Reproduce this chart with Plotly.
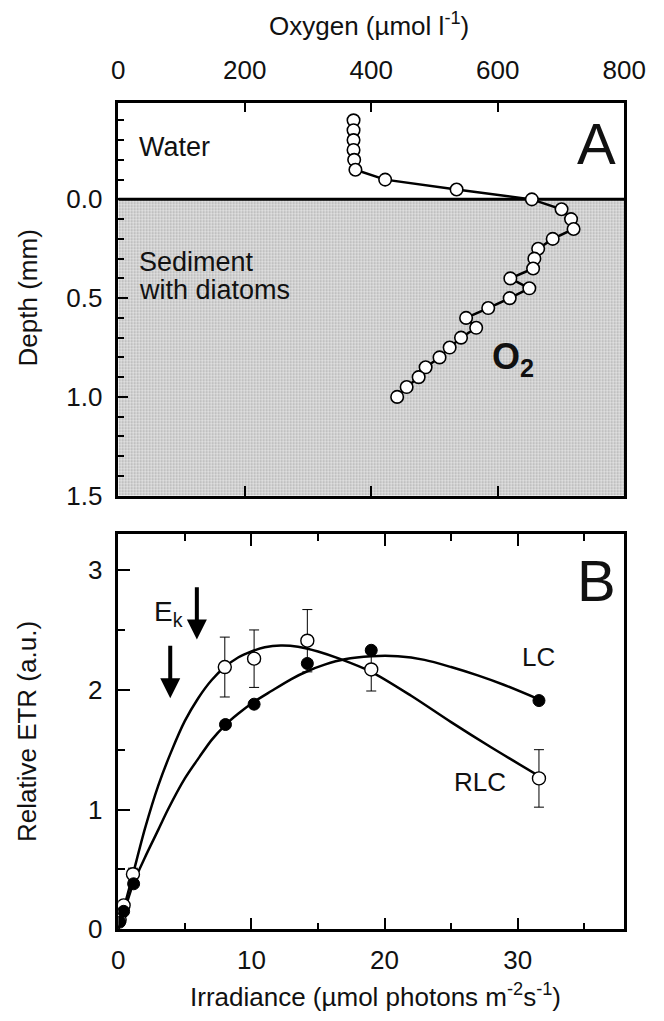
import plotly.graph_objects as go

FONT = "Liberation Sans, Arial, Helvetica, sans-serif"

# ---------------- Panel A: oxygen depth profile ----------------
depth_mm = [-0.40, -0.35, -0.30, -0.25, -0.20, -0.15, -0.10, -0.05,
            0.00, 0.05, 0.10, 0.15, 0.20, 0.25, 0.30, 0.35, 0.40, 0.45,
            0.50, 0.55, 0.60, 0.65, 0.70, 0.75, 0.80, 0.85, 0.90, 0.95, 1.00]
oxygen_umol = [372, 372, 372, 372, 373, 375, 422, 535,
               654, 701, 716, 720, 687, 664, 658, 656, 620, 650,
               619, 585, 550, 566, 542, 524, 508, 486, 475, 456, 441]
oxy_ticks = [0, 200, 400, 600, 800]
depth_ticks = [0.0, 0.5, 1.0, 1.5]
depth_ticklabels = ["0.0", "0.5", "1.0", "1.5"]
sediment_x = [0, 800, 800, 0, 0]
sediment_y = [0, 0, 1.5, 1.5, 0]

# ---------------- Panel B: ETR vs irradiance ----------------
rlc_irr = [0.1, 0.4, 1.1, 8.0, 10.2, 14.2, 19.0, 31.6]
rlc_etr = [0.08, 0.20, 0.46, 2.19, 2.26, 2.41, 2.17, 1.26]
rlc_err = [0.02, 0.03, 0.05, 0.25, 0.24, 0.26, 0.18, 0.24]
lc_irr = [0.1, 0.4, 1.15, 8.05, 10.2, 14.2, 19.0, 31.6]
lc_etr = [0.06, 0.15, 0.38, 1.71, 1.88, 2.22, 2.33, 1.91]

rlc_fit_irr = [0, 0.5, 1.1, 2.0, 3.0, 4.0, 5.0, 6.0, 7.0, 8.0, 9.0, 10.0, 11.0, 12.2,
               13.5, 15.0, 16.6, 19.0, 22.0, 25.0, 28.0, 31.6]
rlc_fit_etr = [0, 0.21, 0.46, 0.84, 1.20, 1.49, 1.74, 1.93, 2.08, 2.19, 2.27, 2.32, 2.355, 2.37,
               2.36, 2.32, 2.26, 2.15, 1.95, 1.73, 1.52, 1.28]
lc_fit_irr = [0, 0.5, 1.15, 2.0, 3.0, 3.73, 5.0, 6.1, 7.0, 8.07, 9.0, 10.2, 11.5, 13.0,
              14.2, 15.5, 17.0, 19.0, 21.0, 23.0, 25.0, 27.0, 29.0, 31.6]
lc_fit_etr = [0, 0.17, 0.39, 0.60, 0.83, 1.0, 1.26, 1.44, 1.58, 1.71, 1.80, 1.90, 1.99, 2.09,
              2.155, 2.21, 2.255, 2.28, 2.28, 2.25, 2.19, 2.12, 2.04, 1.92]

ek_arrow_irr = [5.9, 3.9]
ek_arrow_top = [2.87, 2.38]
ek_arrow_tip = [2.42, 1.93]

fig = go.Figure()

# sediment shading
fig.add_trace(go.Scatter(
    x=sediment_x, y=sediment_y, mode="lines", fill="toself",
    line=dict(width=0, color="rgba(0,0,0,0)"),
    fillcolor="#d4d4d4",
    fillpattern=dict(shape=".", bgcolor="#e2e2e2", fgcolor="#6f6f6f", size=3, solidity=0.35),
    xaxis="x", yaxis="y", hoverinfo="skip", showlegend=False))
# sediment surface line
fig.add_trace(go.Scatter(
    x=[0, 800], y=[0, 0], mode="lines", line=dict(color="black", width=3),
    xaxis="x", yaxis="y", showlegend=False))
# oxygen profile
fig.add_trace(go.Scatter(
    x=oxygen_umol, y=depth_mm, mode="lines+markers",
    line=dict(color="black", width=2.5),
    marker=dict(symbol="circle", size=12.5, color="white", line=dict(color="black", width=1.6)),
    xaxis="x", yaxis="y", showlegend=False))

# Panel B fits
fig.add_trace(go.Scatter(
    x=rlc_fit_irr, y=rlc_fit_etr, mode="lines", line=dict(color="black", width=2.5, shape="spline", smoothing=0.8),
    xaxis="x2", yaxis="y2", showlegend=False))
fig.add_trace(go.Scatter(
    x=lc_fit_irr, y=lc_fit_etr, mode="lines", line=dict(color="black", width=2.5, shape="spline", smoothing=0.8),
    xaxis="x2", yaxis="y2", showlegend=False))
# RLC points
fig.add_trace(go.Scatter(
    x=rlc_irr, y=rlc_etr, mode="markers",
    error_y=dict(type="data", array=rlc_err, visible=True, color="black", thickness=1, width=5),
    marker=dict(symbol="circle", size=13, color="white", line=dict(color="black", width=1.4)),
    xaxis="x2", yaxis="y2", showlegend=False))
# LC points
fig.add_trace(go.Scatter(
    x=lc_irr, y=lc_etr, mode="markers",
    marker=dict(symbol="circle", size=12, color="black", line=dict(color="black", width=1)),
    xaxis="x2", yaxis="y2", showlegend=False))

axis_common = dict(showline=True, linecolor="black", linewidth=2.5, mirror=True,
                   showgrid=False, zeroline=False, ticks="inside", tickcolor="black",
                   tickwidth=2, tickfont=dict(family=FONT, size=26, color="#111"))

fig.update_layout(
    width=664, height=1021, margin=dict(l=0, r=0, t=0, b=0),
    paper_bgcolor="white", plot_bgcolor="white",
    font=dict(family=FONT, color="#111"),
    xaxis=dict(**axis_common, domain=[0.1627, 0.9593], anchor="y", side="top",
               range=[0, 800], tickvals=oxy_ticks, ticklen=10, ticklabelstandoff=10),
    yaxis=dict(**axis_common, domain=[0.5152, 0.906], anchor="x",
               range=[1.5, -0.49], tickvals=depth_ticks, ticktext=depth_ticklabels,
               ticklen=10, ticklabelstandoff=8,
               minor=dict(dtick=0.1, tick0=0, ticks="inside", ticklen=6, tickwidth=2, tickcolor="black")),
    xaxis2=dict(**axis_common, domain=[0.1627, 0.9593], anchor="y2",
                range=[0, 38], tickvals=[0, 10, 20, 30], ticklen=12, ticklabelstandoff=6,
                minor=dict(tickvals=[5, 15, 25, 35], ticks="inside", ticklen=7, tickwidth=2, tickcolor="black")),
    yaxis2=dict(**axis_common, domain=[0.0842, 0.477], anchor="x2",
                range=[0, 3.3], tickvals=[0, 1, 2, 3], ticklen=12, ticklabelstandoff=8,
                minor=dict(tickvals=[0.5, 1.5, 2.5], ticks="inside", ticklen=7, tickwidth=2, tickcolor="black")),
)
# mirror ticks on the x axes (top/bottom)
fig.update_xaxes(mirror="allticks")

ann = []
def txt(text, x, y, size, xref="x", yref="y", xanchor="center", yanchor="middle", textangle=0):
    ann.append(dict(text=text, x=x, y=y, xref=xref, yref=yref, showarrow=False,
                    xanchor=xanchor, yanchor=yanchor, textangle=textangle,
                    font=dict(family=FONT, size=size, color="#111")))

# Panel A texts
txt("Water", 30, -0.265, 27, xanchor="left")
txt("Sediment", 30, 0.315, 27, xanchor="left")
txt("with diatoms", 30, 0.46, 27, xanchor="left")
txt("A", 756, -0.285, 58)
txt("<b>O<sub>2</sub></b>", 624, 0.81, 36)
# Panel B texts
txt("B", 35.9, 2.91, 58, xref="x2", yref="y2")
txt("LC", 31.6, 2.27, 26, xref="x2", yref="y2")
txt("RLC", 27.2, 1.23, 26, xref="x2", yref="y2")
txt("E<sub>k</sub>", 3.8, 2.64, 28, xref="x2", yref="y2")
# axis titles
txt("Oxygen (µmol l<sup>-1</sup>)", 0.557, 0.984, 26, xref="paper", yref="paper")
txt("Depth (mm)", 0.02, 0.712, 26, xref="paper", yref="paper", textangle=-90)
txt("Relative ETR (a.u.)", 0.02, 0.281, 26, xref="paper", yref="paper", textangle=-90)
txt("Irradiance (µmol photons m<sup>-2</sup>s<sup>-1</sup>)", 0.567, 0.018, 26, xref="paper", yref="paper")

for xi, yt, yp in zip(ek_arrow_irr, ek_arrow_top, ek_arrow_tip):
    ann.append(dict(x=xi, y=yp, ax=xi, ay=yt, xref="x2", yref="y2", axref="x2", ayref="y2",
                    showarrow=True, arrowhead=2, arrowsize=1.0, arrowwidth=4,
                    arrowcolor="black", text="", standoff=0, startstandoff=0))

fig.update_layout(annotations=ann)
fig.write_html("out.html")
